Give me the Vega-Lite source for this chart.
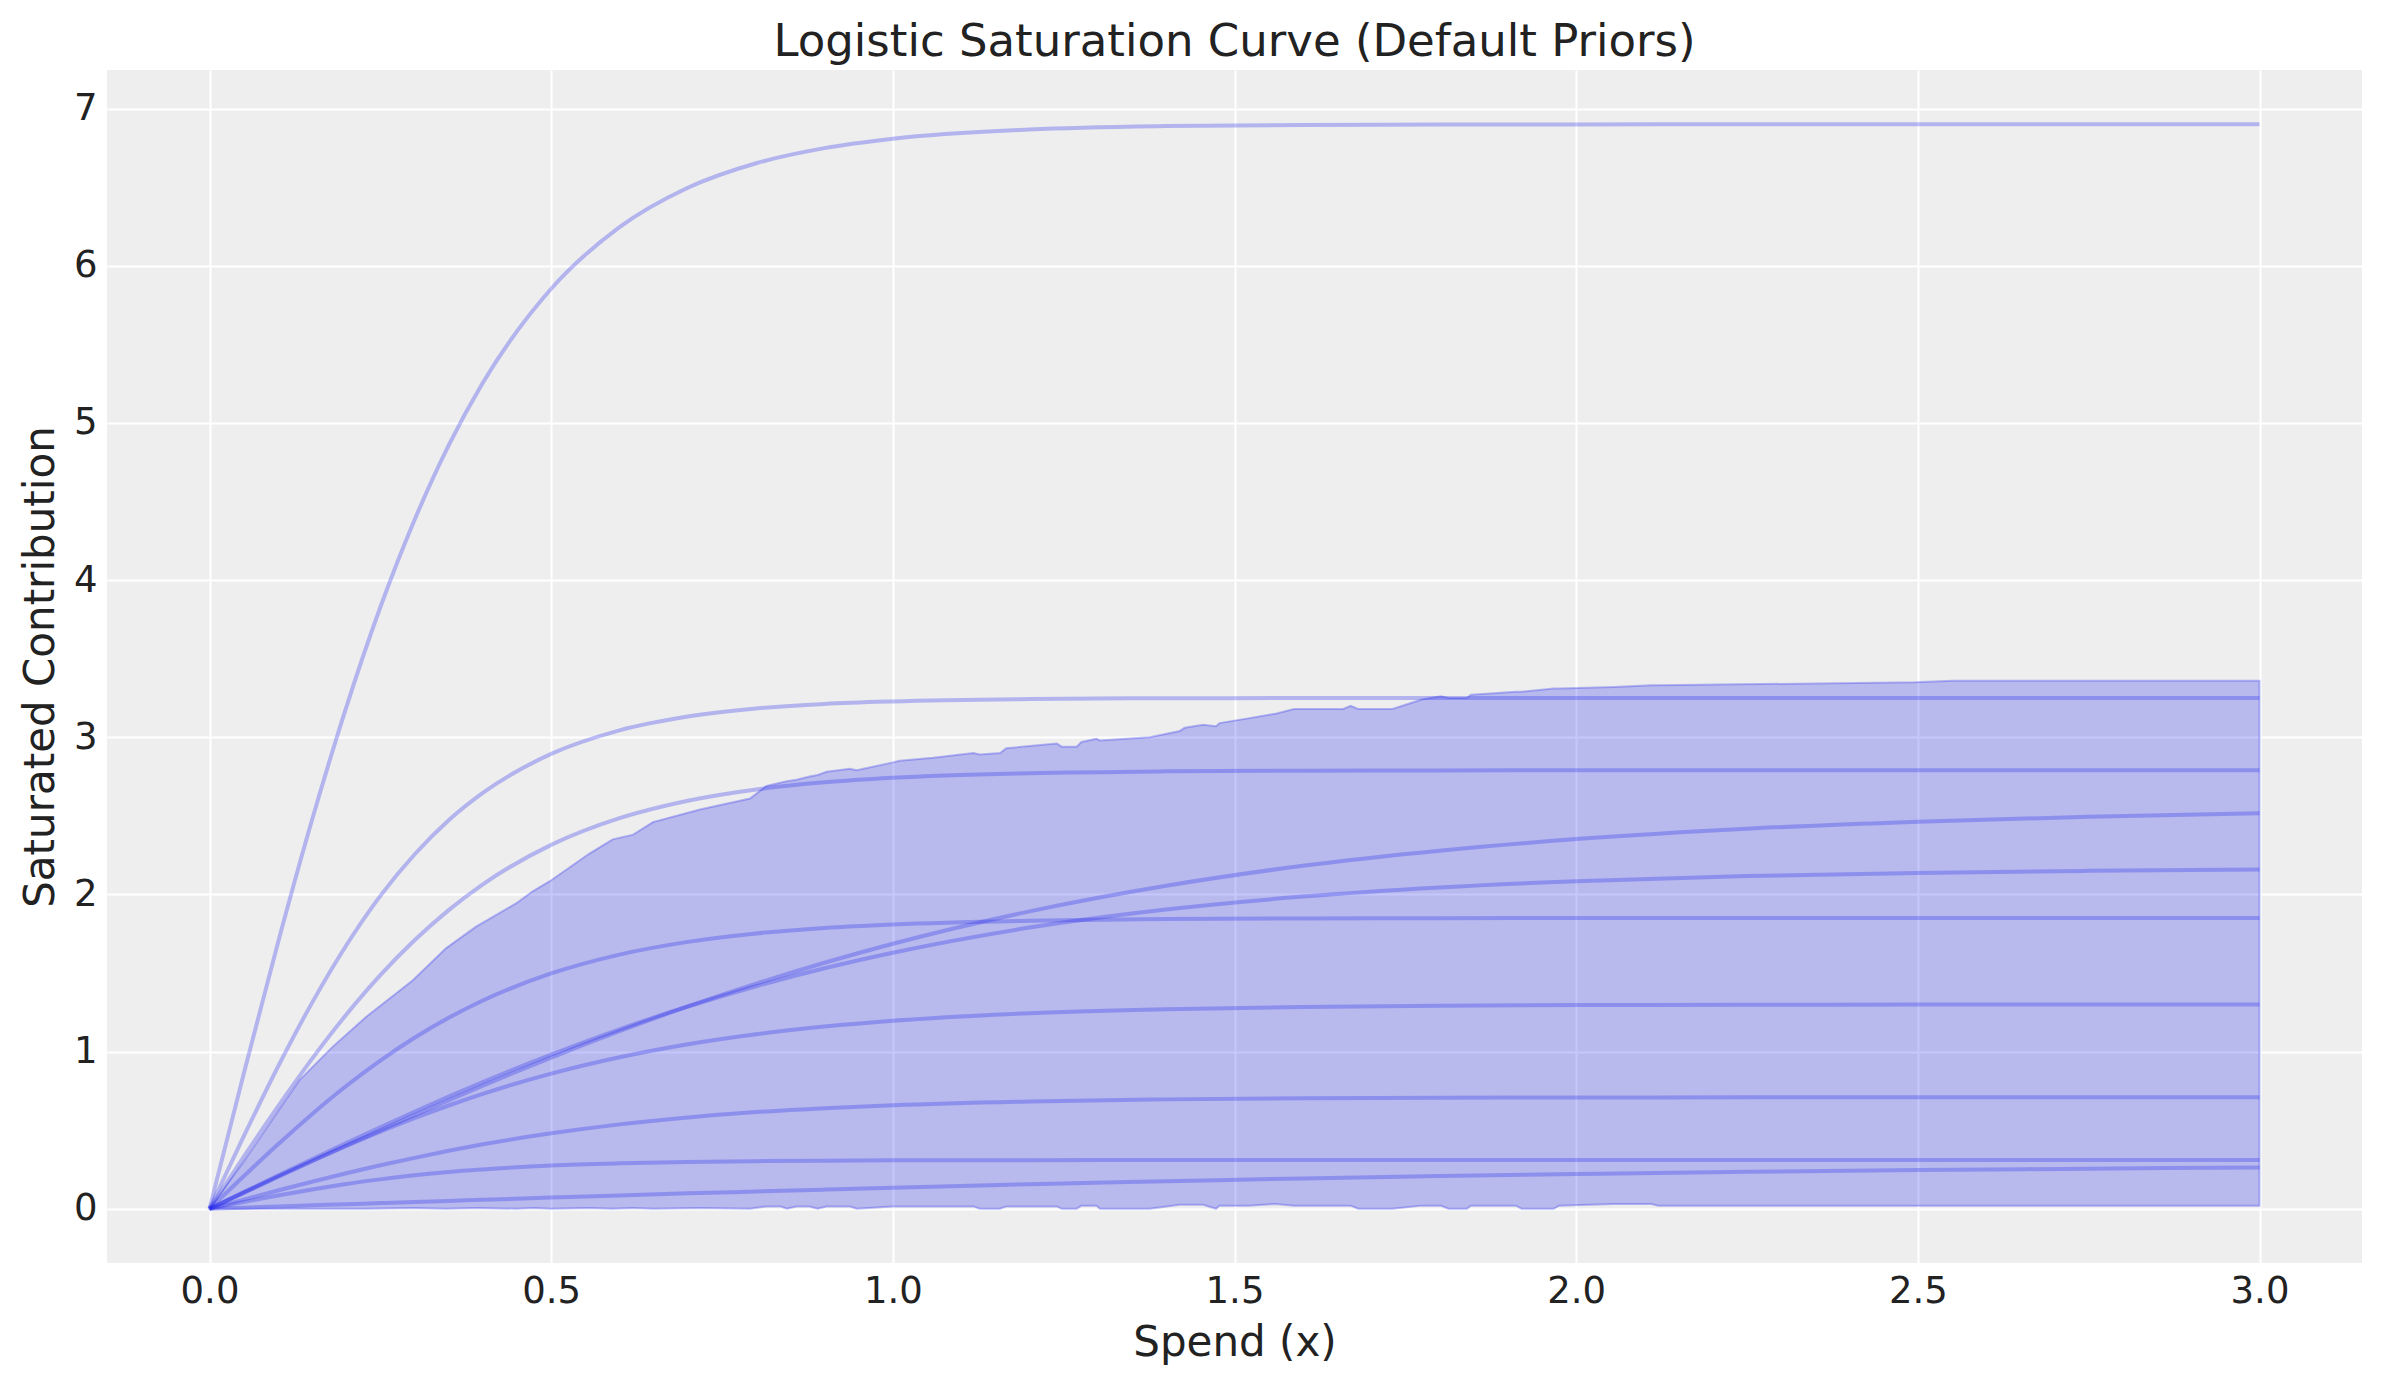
{
  "$schema": "https://vega.github.io/schema/vega-lite/v6.json",
  "width": 2255,
  "height": 1193,
  "autosize": {"type": "none"},
  "padding": {"left": 107, "top": 70, "right": 19, "bottom": 121},
  "background": "white",
  "config": {
    "font": "DejaVu Sans",
    "view": {"fill": "#eeeeee", "stroke": null},
    "axis": {
      "grid": true, "gridColor": "white", "gridWidth": 2, "gridOpacity": 1,
      "domain": false, "ticks": false, "tickSize": 0,
      "labelFontSize": 37, "labelColor": "#222222", "labelPadding": 10,
      "titleFontSize": 42, "titleFontWeight": "normal", "titleColor": "#222222"
    }
  },
  "title": {
    "text": "Logistic Saturation Curve (Default Priors)",
    "fontSize": 45, "fontWeight": "normal", "color": "#222222",
    "anchor": "middle", "baseline": "alphabetic", "offset": 6, "dy": 37
  },
  "datasets": {
    "band": [
      {"x": 0, "lo": 0, "hi": 0}, {"x": 0.05, "lo": 0, "hi": 0.3}, {"x": 0.1, "lo": 0, "hi": 0.62},
      {"x": 0.132, "lo": 0, "hi": 0.82}, {"x": 0.18, "lo": 0, "hi": 1.03}, {"x": 0.229, "lo": 0, "hi": 1.22},
      {"x": 0.298, "lo": 0.005, "hi": 1.455}, {"x": 0.346, "lo": 0, "hi": 1.657}, {"x": 0.39, "lo": 0.005, "hi": 1.795},
      {"x": 0.449, "lo": 0, "hi": 1.944}, {"x": 0.473, "lo": 0.005, "hi": 2.02}, {"x": 0.5, "lo": 0, "hi": 2.09},
      {"x": 0.556, "lo": 0.005, "hi": 2.26}, {"x": 0.59, "lo": 0, "hi": 2.35}, {"x": 0.62, "lo": 0.005, "hi": 2.38},
      {"x": 0.649, "lo": 0, "hi": 2.46}, {"x": 0.7177, "lo": 0.005, "hi": 2.54}, {"x": 0.791, "lo": 0, "hi": 2.61},
      {"x": 0.815, "lo": 0.015, "hi": 2.69}, {"x": 0.835, "lo": 0.015, "hi": 2.71}, {"x": 0.845, "lo": 0, "hi": 2.72},
      {"x": 0.859, "lo": 0.015, "hi": 2.73}, {"x": 0.878, "lo": 0.015, "hi": 2.75}, {"x": 0.89, "lo": 0, "hi": 2.76},
      {"x": 0.903, "lo": 0.015, "hi": 2.78}, {"x": 0.937, "lo": 0.015, "hi": 2.8}, {"x": 0.947, "lo": 0, "hi": 2.79},
      {"x": 1.0, "lo": 0.015, "hi": 2.84}, {"x": 1.01, "lo": 0.015, "hi": 2.85}, {"x": 1.059, "lo": 0.015, "hi": 2.87},
      {"x": 1.118, "lo": 0.015, "hi": 2.9}, {"x": 1.127, "lo": 0, "hi": 2.89}, {"x": 1.157, "lo": 0, "hi": 2.9},
      {"x": 1.166, "lo": 0.015, "hi": 2.93}, {"x": 1.24, "lo": 0.015, "hi": 2.96}, {"x": 1.247, "lo": 0, "hi": 2.94},
      {"x": 1.269, "lo": 0, "hi": 2.94}, {"x": 1.276, "lo": 0.02, "hi": 2.97}, {"x": 1.298, "lo": 0.02, "hi": 2.99},
      {"x": 1.303, "lo": 0, "hi": 2.98}, {"x": 1.376, "lo": 0, "hi": 3.0}, {"x": 1.42, "lo": 0.025, "hi": 3.04},
      {"x": 1.427, "lo": 0.025, "hi": 3.06}, {"x": 1.454, "lo": 0.025, "hi": 3.08}, {"x": 1.473, "lo": 0, "hi": 3.07},
      {"x": 1.478, "lo": 0.02, "hi": 3.09}, {"x": 1.52, "lo": 0.02, "hi": 3.12}, {"x": 1.56, "lo": 0.03, "hi": 3.15},
      {"x": 1.587, "lo": 0.02, "hi": 3.18}, {"x": 1.659, "lo": 0.02, "hi": 3.18}, {"x": 1.67, "lo": 0.02, "hi": 3.2},
      {"x": 1.681, "lo": 0, "hi": 3.18}, {"x": 1.731, "lo": 0, "hi": 3.18}, {"x": 1.774, "lo": 0.02, "hi": 3.24},
      {"x": 1.802, "lo": 0.02, "hi": 3.26}, {"x": 1.813, "lo": 0, "hi": 3.25}, {"x": 1.84, "lo": 0, "hi": 3.25},
      {"x": 1.846, "lo": 0.02, "hi": 3.27}, {"x": 1.912, "lo": 0.02, "hi": 3.29}, {"x": 1.92, "lo": 0, "hi": 3.29},
      {"x": 1.967, "lo": 0, "hi": 3.31}, {"x": 1.975, "lo": 0.02, "hi": 3.31}, {"x": 2.055, "lo": 0.03, "hi": 3.32},
      {"x": 2.11, "lo": 0.03, "hi": 3.33}, {"x": 2.12, "lo": 0.02, "hi": 3.33}, {"x": 2.496, "lo": 0.02, "hi": 3.35},
      {"x": 2.551, "lo": 0.02, "hi": 3.36}, {"x": 3.0, "lo": 0.02, "hi": 3.36}
    ],
    "curves": [
      {"s": 1, "x": 0, "y": 0}, {"s": 1, "x": 0.05, "y": 0.858}, {"s": 1, "x": 0.1, "y": 1.69}, {"s": 1, "x": 0.15, "y": 2.473},
      {"s": 1, "x": 0.2, "y": 3.189}, {"s": 1, "x": 0.25, "y": 3.827}, {"s": 1, "x": 0.3, "y": 4.382}, {"s": 1, "x": 0.35, "y": 4.857},
      {"s": 1, "x": 0.4, "y": 5.255}, {"s": 1, "x": 0.5, "y": 5.853}, {"s": 1, "x": 0.6, "y": 6.245}, {"s": 1, "x": 0.7, "y": 6.496},
      {"s": 1, "x": 0.8, "y": 6.652}, {"s": 1, "x": 0.9, "y": 6.748}, {"s": 1, "x": 1.0, "y": 6.808}, {"s": 1, "x": 1.2, "y": 6.866},
      {"s": 1, "x": 1.4, "y": 6.888}, {"s": 1, "x": 1.6, "y": 6.895}, {"s": 1, "x": 1.8, "y": 6.898}, {"s": 1, "x": 2.0, "y": 6.899},
      {"s": 1, "x": 2.25, "y": 6.9}, {"s": 1, "x": 2.5, "y": 6.9}, {"s": 1, "x": 2.75, "y": 6.9}, {"s": 1, "x": 3.0, "y": 6.9},

      {"s": 2, "x": 0, "y": 0}, {"s": 2, "x": 0.05, "y": 0.46}, {"s": 2, "x": 0.1, "y": 0.902}, {"s": 2, "x": 0.15, "y": 1.31},
      {"s": 2, "x": 0.2, "y": 1.675}, {"s": 2, "x": 0.25, "y": 1.991}, {"s": 2, "x": 0.3, "y": 2.254}, {"s": 2, "x": 0.35, "y": 2.472},
      {"s": 2, "x": 0.4, "y": 2.646}, {"s": 2, "x": 0.5, "y": 2.894}, {"s": 2, "x": 0.6, "y": 3.044}, {"s": 2, "x": 0.7, "y": 3.132},
      {"s": 2, "x": 0.8, "y": 3.183}, {"s": 2, "x": 0.9, "y": 3.212}, {"s": 2, "x": 1.0, "y": 3.228}, {"s": 2, "x": 1.2, "y": 3.243},
      {"s": 2, "x": 1.4, "y": 3.248}, {"s": 2, "x": 1.6, "y": 3.249}, {"s": 2, "x": 1.8, "y": 3.25}, {"s": 2, "x": 2.0, "y": 3.25},
      {"s": 2, "x": 2.25, "y": 3.25}, {"s": 2, "x": 2.5, "y": 3.25}, {"s": 2, "x": 2.75, "y": 3.25}, {"s": 2, "x": 3.0, "y": 3.25},

      {"s": 3, "x": 0, "y": 0}, {"s": 3, "x": 0.05, "y": 0.33}, {"s": 3, "x": 0.1, "y": 0.65}, {"s": 3, "x": 0.15, "y": 0.954},
      {"s": 3, "x": 0.2, "y": 1.234}, {"s": 3, "x": 0.25, "y": 1.486}, {"s": 3, "x": 0.3, "y": 1.708}, {"s": 3, "x": 0.35, "y": 1.9},
      {"s": 3, "x": 0.4, "y": 2.064}, {"s": 3, "x": 0.5, "y": 2.315}, {"s": 3, "x": 0.6, "y": 2.485}, {"s": 3, "x": 0.7, "y": 2.596},
      {"s": 3, "x": 0.8, "y": 2.668}, {"s": 3, "x": 0.9, "y": 2.713}, {"s": 3, "x": 1.0, "y": 2.742}, {"s": 3, "x": 1.2, "y": 2.771},
      {"s": 3, "x": 1.4, "y": 2.783}, {"s": 3, "x": 1.6, "y": 2.787}, {"s": 3, "x": 1.8, "y": 2.789}, {"s": 3, "x": 2.0, "y": 2.79},
      {"s": 3, "x": 2.25, "y": 2.79}, {"s": 3, "x": 2.5, "y": 2.79}, {"s": 3, "x": 2.75, "y": 2.79}, {"s": 3, "x": 3.0, "y": 2.79},

      {"s": 4, "x": 0, "y": 0}, {"s": 4, "x": 0.05, "y": 0.101}, {"s": 4, "x": 0.1, "y": 0.202}, {"s": 4, "x": 0.15, "y": 0.302},
      {"s": 4, "x": 0.2, "y": 0.401}, {"s": 4, "x": 0.25, "y": 0.499}, {"s": 4, "x": 0.3, "y": 0.596}, {"s": 4, "x": 0.35, "y": 0.69},
      {"s": 4, "x": 0.4, "y": 0.783}, {"s": 4, "x": 0.5, "y": 0.962}, {"s": 4, "x": 0.6, "y": 1.13}, {"s": 4, "x": 0.7, "y": 1.287},
      {"s": 4, "x": 0.8, "y": 1.432}, {"s": 4, "x": 0.9, "y": 1.565}, {"s": 4, "x": 1.0, "y": 1.686}, {"s": 4, "x": 1.2, "y": 1.892},
      {"s": 4, "x": 1.4, "y": 2.055}, {"s": 4, "x": 1.6, "y": 2.182}, {"s": 4, "x": 1.8, "y": 2.278}, {"s": 4, "x": 2.0, "y": 2.352},
      {"s": 4, "x": 2.25, "y": 2.418}, {"s": 4, "x": 2.5, "y": 2.463}, {"s": 4, "x": 2.75, "y": 2.494}, {"s": 4, "x": 3.0, "y": 2.516},

      {"s": 5, "x": 0, "y": 0}, {"s": 5, "x": 0.05, "y": 0.106}, {"s": 5, "x": 0.1, "y": 0.211}, {"s": 5, "x": 0.15, "y": 0.315},
      {"s": 5, "x": 0.2, "y": 0.418}, {"s": 5, "x": 0.25, "y": 0.519}, {"s": 5, "x": 0.3, "y": 0.617}, {"s": 5, "x": 0.35, "y": 0.713},
      {"s": 5, "x": 0.4, "y": 0.806}, {"s": 5, "x": 0.5, "y": 0.981}, {"s": 5, "x": 0.6, "y": 1.142}, {"s": 5, "x": 0.7, "y": 1.287},
      {"s": 5, "x": 0.8, "y": 1.416}, {"s": 5, "x": 0.9, "y": 1.53}, {"s": 5, "x": 1.0, "y": 1.629}, {"s": 5, "x": 1.2, "y": 1.789},
      {"s": 5, "x": 1.4, "y": 1.904}, {"s": 5, "x": 1.6, "y": 1.986}, {"s": 5, "x": 1.8, "y": 2.044}, {"s": 5, "x": 2.0, "y": 2.084},
      {"s": 5, "x": 2.25, "y": 2.117}, {"s": 5, "x": 2.5, "y": 2.137}, {"s": 5, "x": 2.75, "y": 2.15}, {"s": 5, "x": 3.0, "y": 2.158},

      {"s": 6, "x": 0, "y": 0}, {"s": 6, "x": 0.05, "y": 0.207}, {"s": 6, "x": 0.1, "y": 0.409}, {"s": 6, "x": 0.15, "y": 0.602},
      {"s": 6, "x": 0.2, "y": 0.781}, {"s": 6, "x": 0.25, "y": 0.943}, {"s": 6, "x": 0.3, "y": 1.088}, {"s": 6, "x": 0.35, "y": 1.215},
      {"s": 6, "x": 0.4, "y": 1.325}, {"s": 6, "x": 0.5, "y": 1.497}, {"s": 6, "x": 0.6, "y": 1.617}, {"s": 6, "x": 0.7, "y": 1.698},
      {"s": 6, "x": 0.8, "y": 1.752}, {"s": 6, "x": 0.9, "y": 1.787}, {"s": 6, "x": 1.0, "y": 1.809}, {"s": 6, "x": 1.2, "y": 1.833},
      {"s": 6, "x": 1.4, "y": 1.843}, {"s": 6, "x": 1.6, "y": 1.847}, {"s": 6, "x": 1.8, "y": 1.849}, {"s": 6, "x": 2.0, "y": 1.85},
      {"s": 6, "x": 2.25, "y": 1.85}, {"s": 6, "x": 2.5, "y": 1.85}, {"s": 6, "x": 2.75, "y": 1.85}, {"s": 6, "x": 3.0, "y": 1.85},

      {"s": 7, "x": 0, "y": 0}, {"s": 7, "x": 0.05, "y": 0.103}, {"s": 7, "x": 0.1, "y": 0.205}, {"s": 7, "x": 0.15, "y": 0.304},
      {"s": 7, "x": 0.2, "y": 0.4}, {"s": 7, "x": 0.25, "y": 0.491}, {"s": 7, "x": 0.3, "y": 0.577}, {"s": 7, "x": 0.35, "y": 0.657},
      {"s": 7, "x": 0.4, "y": 0.731}, {"s": 7, "x": 0.5, "y": 0.86}, {"s": 7, "x": 0.6, "y": 0.964}, {"s": 7, "x": 0.7, "y": 1.047},
      {"s": 7, "x": 0.8, "y": 1.111}, {"s": 7, "x": 0.9, "y": 1.159}, {"s": 7, "x": 1.0, "y": 1.196}, {"s": 7, "x": 1.2, "y": 1.244},
      {"s": 7, "x": 1.4, "y": 1.27}, {"s": 7, "x": 1.6, "y": 1.284}, {"s": 7, "x": 1.8, "y": 1.292}, {"s": 7, "x": 2.0, "y": 1.296},
      {"s": 7, "x": 2.25, "y": 1.298}, {"s": 7, "x": 2.5, "y": 1.299}, {"s": 7, "x": 2.75, "y": 1.3}, {"s": 7, "x": 3.0, "y": 1.3},

      {"s": 8, "x": 0, "y": 0}, {"s": 8, "x": 0.05, "y": 0.058}, {"s": 8, "x": 0.1, "y": 0.116}, {"s": 8, "x": 0.15, "y": 0.172},
      {"s": 8, "x": 0.2, "y": 0.226}, {"s": 8, "x": 0.25, "y": 0.277}, {"s": 8, "x": 0.3, "y": 0.324}, {"s": 8, "x": 0.35, "y": 0.369},
      {"s": 8, "x": 0.4, "y": 0.41}, {"s": 8, "x": 0.5, "y": 0.48}, {"s": 8, "x": 0.6, "y": 0.537}, {"s": 8, "x": 0.7, "y": 0.581},
      {"s": 8, "x": 0.8, "y": 0.615}, {"s": 8, "x": 0.9, "y": 0.64}, {"s": 8, "x": 1.0, "y": 0.659}, {"s": 8, "x": 1.2, "y": 0.683},
      {"s": 8, "x": 1.4, "y": 0.696}, {"s": 8, "x": 1.6, "y": 0.703}, {"s": 8, "x": 1.8, "y": 0.706}, {"s": 8, "x": 2.0, "y": 0.708},
      {"s": 8, "x": 2.25, "y": 0.709}, {"s": 8, "x": 2.5, "y": 0.7095}, {"s": 8, "x": 2.75, "y": 0.71}, {"s": 8, "x": 3.0, "y": 0.71},

      {"s": 9, "x": 0, "y": 0}, {"s": 9, "x": 0.05, "y": 0.043}, {"s": 9, "x": 0.1, "y": 0.085}, {"s": 9, "x": 0.15, "y": 0.123},
      {"s": 9, "x": 0.2, "y": 0.158}, {"s": 9, "x": 0.25, "y": 0.187}, {"s": 9, "x": 0.3, "y": 0.213}, {"s": 9, "x": 0.35, "y": 0.234},
      {"s": 9, "x": 0.4, "y": 0.25}, {"s": 9, "x": 0.5, "y": 0.275}, {"s": 9, "x": 0.6, "y": 0.289}, {"s": 9, "x": 0.7, "y": 0.298},
      {"s": 9, "x": 0.8, "y": 0.303}, {"s": 9, "x": 0.9, "y": 0.306}, {"s": 9, "x": 1.0, "y": 0.308}, {"s": 9, "x": 1.2, "y": 0.309},
      {"s": 9, "x": 1.4, "y": 0.31}, {"s": 9, "x": 1.6, "y": 0.31}, {"s": 9, "x": 1.8, "y": 0.31}, {"s": 9, "x": 2.0, "y": 0.31},
      {"s": 9, "x": 2.25, "y": 0.31}, {"s": 9, "x": 2.5, "y": 0.31}, {"s": 9, "x": 2.75, "y": 0.31}, {"s": 9, "x": 3.0, "y": 0.31},

      {"s": 10, "x": 0, "y": 0}, {"s": 10, "x": 0.05, "y": 0.007}, {"s": 10, "x": 0.1, "y": 0.015}, {"s": 10, "x": 0.15, "y": 0.022},
      {"s": 10, "x": 0.2, "y": 0.029}, {"s": 10, "x": 0.25, "y": 0.036}, {"s": 10, "x": 0.3, "y": 0.043}, {"s": 10, "x": 0.35, "y": 0.05},
      {"s": 10, "x": 0.4, "y": 0.057}, {"s": 10, "x": 0.5, "y": 0.071}, {"s": 10, "x": 0.6, "y": 0.085}, {"s": 10, "x": 0.7, "y": 0.098},
      {"s": 10, "x": 0.8, "y": 0.11}, {"s": 10, "x": 0.9, "y": 0.122}, {"s": 10, "x": 1.0, "y": 0.134}, {"s": 10, "x": 1.2, "y": 0.156},
      {"s": 10, "x": 1.4, "y": 0.175}, {"s": 10, "x": 1.6, "y": 0.193}, {"s": 10, "x": 1.8, "y": 0.208}, {"s": 10, "x": 2.0, "y": 0.221},
      {"s": 10, "x": 2.25, "y": 0.235}, {"s": 10, "x": 2.5, "y": 0.246}, {"s": 10, "x": 2.75, "y": 0.255}, {"s": 10, "x": 3.0, "y": 0.263}
    ]
  },
  "encoding": {
    "x": {
      "field": "x", "type": "quantitative", "title": "Spend (x)",
      "scale": {"domain": [-0.15, 3.15], "nice": false, "zero": false},
      "axis": {"values": [0, 0.5, 1, 1.5, 2, 2.5, 3], "format": ".1f", "titlePadding": 13}
    }
  },
  "layer": [
    {
      "data": {"name": "band"},
      "mark": {
        "type": "area", "color": "#2a2eec", "fillOpacity": 0.27,
        "stroke": "#2a2eec", "strokeOpacity": 0.3, "strokeWidth": 2
      },
      "encoding": {
        "y": {
          "field": "hi", "type": "quantitative", "title": "Saturated Contribution",
          "scale": {"domain": [-0.345, 7.245], "nice": false, "zero": false},
          "axis": {"values": [0, 1, 2, 3, 4, 5, 6, 7], "format": "d", "titlePadding": 11}
        },
        "y2": {"field": "lo"}
      }
    },
    {
      "data": {"name": "curves"},
      "mark": {
        "type": "line", "color": "#2a2eec", "strokeOpacity": 0.3,
        "strokeWidth": 4, "interpolate": "monotone"
      },
      "encoding": {
        "y": {"field": "y", "type": "quantitative"},
        "detail": {"field": "s", "type": "nominal"}
      }
    }
  ]
}
